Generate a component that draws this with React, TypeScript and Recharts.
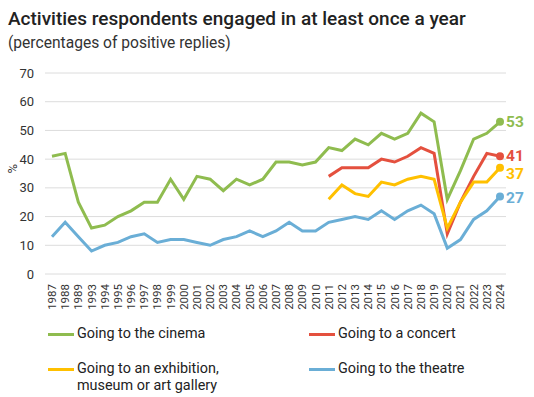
import React from 'react';
import { LineChart, Line, XAxis, YAxis, CartesianGrid, Label } from 'recharts';

const years = [
  '1987', '1988', '1989', '1993', '1994', '1995', '1996', '1997', '1998', '1999',
  '2000', '2001', '2002', '2003', '2004', '2005', '2006', '2007', '2008', '2009',
  '2010', '2011', '2012', '2013', '2014', '2015', '2016', '2017', '2018', '2019',
  '2020', '2021', '2022', '2023', '2024',
];

const cinema = [
  41, 42, 25, 16, 17, 20, 22, 25, 25, 33,
  26, 34, 33, 29, 33, 31, 33, 39, 39, 38,
  39, 44, 43, 47, 45, 49, 47, 49, 56, 53,
  26, 36, 47, 49, 53,
];

const theatre = [
  13, 18, 13, 8, 10, 11, 13, 14, 11, 12,
  12, 11, 10, 12, 13, 15, 13, 15, 18, 15,
  15, 18, 19, 20, 19, 22, 19, 22, 24, 21,
  9, 12, 19, 22, 27,
];

// concert and exhibition start in 2011
const concert = [34, 37, 37, 37, 40, 39, 41, 44, 42, 14, 25, 34, 42, 41];
const exhibition = [26, 31, 28, 27, 32, 31, 33, 34, 33, 16, 25, 32, 32, 37];

const yTicks = [0, 10, 20, 30, 40, 50, 60, 70];

const COLORS = {
  cinema: '#8fbc4f',
  concert: '#e4503e',
  exhibition: '#ffc000',
  theatre: '#6aaed6',
};

const startIdx = years.indexOf('2011');

const data = years.map((year, i) => ({
  year,
  cinema: cinema[i],
  theatre: theatre[i],
  concert: i >= startIdx ? concert[i - startIdx] : null,
  exhibition: i >= startIdx ? exhibition[i - startIdx] : null,
}));

const lastIndex = years.length - 1;

const series = [
  { key: 'cinema', name: 'Going to the cinema', labelDy: 0 },
  { key: 'concert', name: 'Going to a concert', labelDy: -1 },
  { key: 'exhibition', name: 'Going to an exhibition,\nmuseum or art gallery', labelDy: 6 },
  { key: 'theatre', name: 'Going to the theatre', labelDy: 1 },
] as const;

const FONT = 'Roboto, "Noto Sans", sans-serif';

const XTick = (props: any) => {
  const { x, y, payload } = props;
  return (
    <text
      x={x}
      y={y}
      transform={`rotate(-90, ${x}, ${y})`}
      textAnchor="end"
      dy="0.35em"
      fontSize={11.5}
      fill="#333"
      fontFamily={FONT}
    >
      {payload.value}
    </text>
  );
};

const makeDot = (color: string) => (props: any) => {
  const { cx, cy, index } = props;
  if (index !== lastIndex) return <g key={`d${index}`} />;
  return <circle key={`d${index}`} cx={cx} cy={cy} r={4} fill={color} />;
};

const makeLabel = (color: string, shift: number) => (props: any) => {
  const { x, y, index, value } = props;
  if (index !== lastIndex) return <g key={`l${index}`} />;
  return (
    <text
      key={`l${index}`}
      x={x + 6}
      y={y + shift}
      dy="0.36em"
      fontSize={15.5}
      fontWeight={700}
      fill={color}
      fontFamily={FONT}
    >
      {value}
    </text>
  );
};

const LegendItem = ({ color, text }: { color: string; text: string }) => (
  <div style={{ display: 'flex', alignItems: 'flex-start' }}>
    <div style={{ width: 26, height: 3, background: color, marginTop: 8, marginRight: 3, flexShrink: 0 }} />
    <div style={{ whiteSpace: 'pre-line', lineHeight: '17px', fontSize: 14.4 }}>{text}</div>
  </div>
);

export default function App() {
  return (
    <div
      style={{
        position: 'absolute',
        left: 0,
        top: 0,
        width: 534,
        height: 397,
        background: '#fff',
        fontFamily: FONT,
        color: '#222',
      }}
    >
      <div style={{ position: 'absolute', left: 8, top: 7, fontSize: 19, fontWeight: 500, color: '#222' }}>
        Activities respondents engaged in at least once a year
      </div>
      <div style={{ position: 'absolute', left: 8, top: 34, fontSize: 15.6, color: '#333' }}>
        (percentages of positive replies)
      </div>

      <div style={{ position: 'absolute', left: 0, top: 0 }}>
        <LineChart width={534} height={310} data={data} margin={{ top: 73, right: 28, bottom: 0, left: 0 }}>
          <CartesianGrid vertical={false} stroke="#dcdcdc" strokeWidth={1} />
          <XAxis
            dataKey="year"
            interval={0}
            tick={<XTick />}
            tickLine={false}
            axisLine={false}
            height={36}
            tickMargin={4}
            padding={{ left: 7, right: 6 }}
          />
          <YAxis
            domain={[0, 70]}
            ticks={yTicks}
            width={45}
            tickLine={false}
            axisLine={false}
            tickMargin={5}
            tick={{ fontSize: 13, fill: '#333', fontFamily: FONT }}
          >
            <Label value="%" angle={-90} position="insideLeft" offset={12} style={{ fontSize: 13, fill: '#333', fontFamily: FONT }} />
          </YAxis>
          {series.map((s) => (
            <Line
              key={s.key}
              type="linear"
              dataKey={s.key}
              stroke={COLORS[s.key]}
              strokeWidth={3}
              dot={makeDot(COLORS[s.key])}
              activeDot={false}
              label={makeLabel(COLORS[s.key], s.labelDy)}
              connectNulls={false}
              isAnimationActive={false}
            />
          ))}
        </LineChart>
      </div>

      <div style={{ position: 'absolute', left: 48, top: 325, width: 480, display: 'grid', gridTemplateColumns: '261px 219px', rowGap: 18 }}>
        <LegendItem color={COLORS.cinema} text={series[0].name} />
        <LegendItem color={COLORS.concert} text={series[1].name} />
        <LegendItem color={COLORS.exhibition} text={series[2].name} />
        <LegendItem color={COLORS.theatre} text={series[3].name} />
      </div>
    </div>
  );
}
